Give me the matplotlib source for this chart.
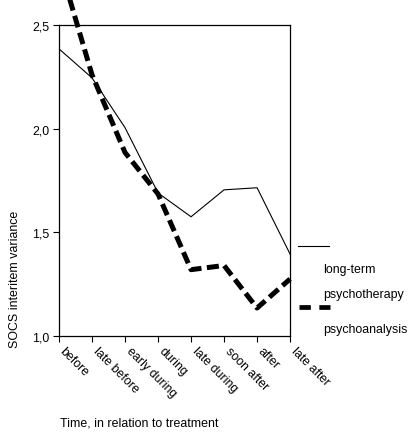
import matplotlib.pyplot as plt
from matplotlib.lines import Line2D
from matplotlib.transforms import ScaledTranslation

plt.rcParams['font.family'] = ['Liberation Sans', 'DejaVu Sans']
plt.rcParams['font.size'] = 8.9

# Time points and SOCS interitem variance per treatment group
periods = ['before', 'late before', 'early during', 'during',
           'late during', 'soon after', 'after', 'late after']
long_term = [2.385, 2.245, 2.005, 1.69, 1.575, 1.705, 1.715, 1.395]
psychoanalysis = [2.80, 2.26, 1.885, 1.685, 1.32, 1.34, 1.135, 1.275]
yticks = [1.0, 1.5, 2.0, 2.5]
ytick_labels = ['1,0', '1,5', '2,0', '2,5']

fig = plt.figure(figsize=(4.08, 4.35), dpi=100)
ax = fig.add_axes([0.1446, 0.2253, 0.5664, 0.7149])

x = range(len(periods))
ax.plot(x, long_term, color='black', linewidth=0.8)
ax.plot(x, psychoanalysis, color='black', linewidth=3.6,
        dashes=(2.4, 1.1), clip_on=False)

ax.set_xlim(0, len(periods) - 1)
ax.set_ylim(1.0, 2.5)
ax.set_yticks(yticks)
ax.set_yticklabels(ytick_labels)
ax.set_xticks(list(x))
ax.set_xticklabels(periods, rotation=-45, ha='left', va='top',
                   rotation_mode='anchor')
ax.tick_params(direction='out', length=4, width=0.8, pad=3)
# nudge the slanted labels so they start right of each tick
shift = ScaledTranslation(7 / 100, 1 / 100, fig.dpi_scale_trans)
for lbl in ax.get_xticklabels():
    lbl.set_transform(lbl.get_transform() + shift)
for s in ax.spines.values():
    s.set_linewidth(0.9)

# Axis titles
fig.text(15 / 408, 1 - 279 / 435, 'SOCS interitem variance',
         rotation=90, ha='center', va='center')
fig.text(60 / 408, 1 - 424 / 435, 'Time, in relation to treatment',
         ha='left', va='center')

# Legend drawn by hand
fig.add_artist(Line2D([298 / 408, 329 / 408], [1 - 247 / 435, 1 - 247 / 435],
                      color='black', linewidth=0.8))
fig.add_artist(Line2D([299 / 408, 330 / 408], [1 - 308 / 435, 1 - 308 / 435],
                      color='black', linewidth=3.4, dashes=(2.4, 1.8)))
fig.text(323 / 408, 1 - 270 / 435, 'long-term', ha='left', va='center')
fig.text(323 / 408, 1 - 295 / 435, 'psychotherapy', ha='left', va='center')
fig.text(323 / 408, 1 - 330 / 435, 'psychoanalysis', ha='left', va='center')

fig.savefig('out.png', dpi=100)
